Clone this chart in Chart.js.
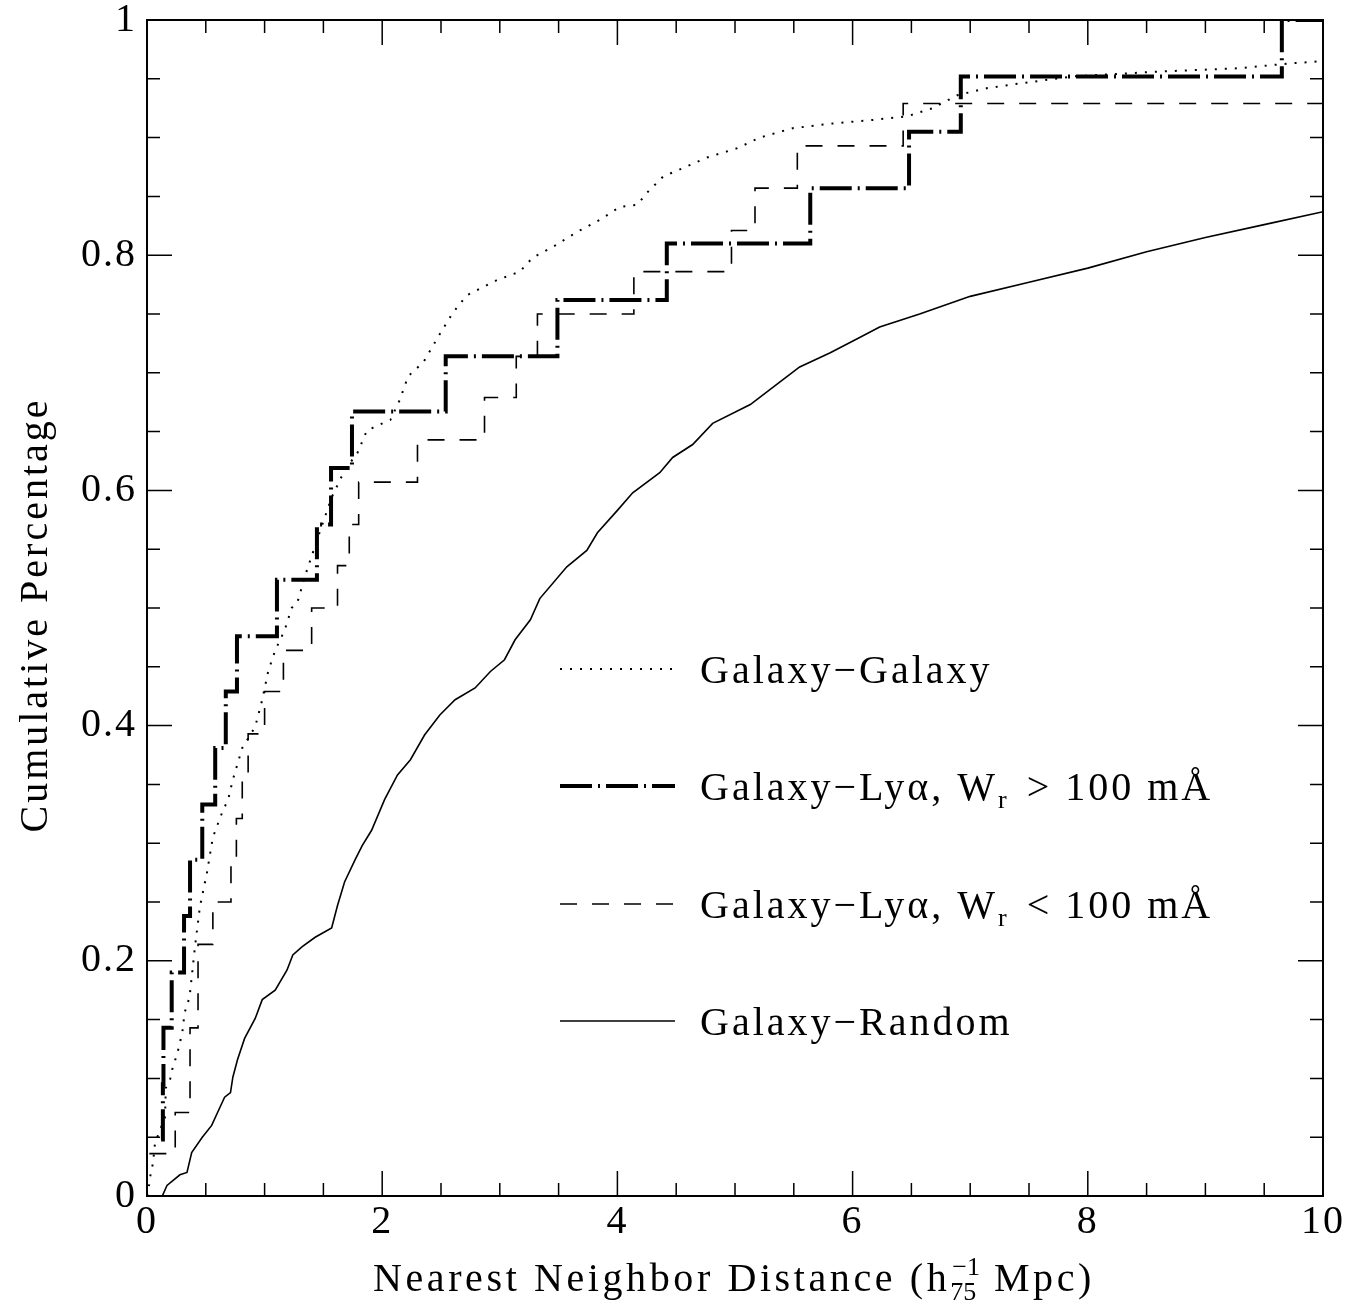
<!DOCTYPE html>
<html><head><meta charset="utf-8">
<script src="https://cdn.jsdelivr.net/npm/chart.js@4/dist/chart.umd.min.js"></script>
<style>html,body{margin:0;padding:0;background:#fff}#wrap{width:1360px;height:1306px;position:relative}</style>
</head><body><div id="wrap"><canvas id="c"></canvas></div>
<script>
// ---- data ----
const xTickLabels = ['0','2','4','6','8','10'];
const yTickLabels = ['0','0.2','0.4','0.6','0.8','1'];

// Galaxy-Galaxy (dotted)
const ggX = [0.0,0.01,0.026,0.051,0.068,0.11,0.153,0.16,0.196,0.22,0.255,0.30,0.32,0.35,0.366,0.408,0.45,0.51,0.56,0.646,0.69,0.73,0.81,0.92,0.98,1.03,1.09,1.17,1.23,1.28,1.34,1.47,1.57,1.68,1.79,1.87,2.07,2.15,2.22,2.35,2.49,2.60,2.72,2.98,3.17,3.28,3.45,3.66,3.85,4.02,4.17,4.25,4.39,4.51,4.76,5.02,5.21,5.49,5.83,6.17,6.46,6.68,6.89,7.14,7.42,7.87,8.58,9.29,9.71,10.0];
const ggY = [0.0,0.003,0.016,0.028,0.045,0.056,0.067,0.092,0.099,0.11,0.12,0.139,0.156,0.165,0.173,0.212,0.246,0.275,0.305,0.328,0.337,0.354,0.381,0.399,0.422,0.446,0.464,0.481,0.5,0.505,0.526,0.565,0.594,0.617,0.632,0.651,0.66,0.677,0.697,0.709,0.733,0.751,0.766,0.779,0.786,0.798,0.807,0.82,0.83,0.841,0.843,0.853,0.867,0.872,0.883,0.891,0.9,0.908,0.912,0.915,0.918,0.925,0.936,0.942,0.946,0.952,0.956,0.959,0.963,0.965];

// Galaxy-Lya, Wr > 100 mA (thick dash-dot, steps)
const strongX = [0.12,0.135,0.14,0.21,0.315,0.366,0.47,0.58,0.67,0.765,1.105,1.445,1.565,1.743,2.54,3.49,4.42,5.64,6.48,6.92,9.65,10.0];
const strongY = [0.048,0.095,0.143,0.190,0.238,0.286,0.333,0.381,0.429,0.476,0.524,0.571,0.619,0.667,0.714,0.762,0.810,0.857,0.905,0.952,1.0,1.0];

// Galaxy-Lya, Wr < 100 mA (dashed, steps)
const weakX = [0.02,0.24,0.366,0.366,0.434,0.434,0.56,0.714,0.76,0.81,0.86,1.00,1.16,1.40,1.62,1.72,1.80,2.30,2.87,3.14,3.32,4.14,4.97,5.17,5.53,6.43,10.0];
const weakY = [0.036,0.071,0.107,0.143,0.179,0.214,0.25,0.286,0.321,0.357,0.393,0.429,0.464,0.5,0.536,0.571,0.607,0.643,0.679,0.714,0.75,0.786,0.821,0.857,0.893,0.929,0.929];

// Galaxy-Random (solid)
const randX = [0.13,0.17,0.28,0.34,0.38,0.47,0.55,0.60,0.66,0.71,0.73,0.77,0.83,0.92,0.98,1.09,1.19,1.24,1.32,1.43,1.57,1.62,1.68,1.77,1.83,1.91,2.02,2.13,2.24,2.36,2.49,2.62,2.79,2.92,3.04,3.13,3.26,3.34,3.57,3.74,3.83,4.0,4.13,4.36,4.47,4.64,4.81,5.13,5.38,5.55,5.81,6.06,6.23,6.57,7.0,7.5,8.0,8.5,9.0,9.5,10.0];
const randY = [0.0,0.009,0.018,0.02,0.037,0.05,0.06,0.071,0.084,0.088,0.101,0.116,0.134,0.151,0.167,0.175,0.192,0.205,0.212,0.22,0.228,0.247,0.267,0.286,0.298,0.311,0.337,0.358,0.371,0.392,0.409,0.422,0.432,0.446,0.456,0.473,0.49,0.508,0.535,0.549,0.564,0.583,0.598,0.615,0.628,0.639,0.657,0.673,0.692,0.705,0.717,0.73,0.739,0.75,0.765,0.777,0.789,0.803,0.815,0.826,0.837];

const seriesLabels = ['Galaxy\u2212Galaxy','Galaxy\u2212Ly\u03b1, Wr > 100 m\u00c5','Galaxy\u2212Ly\u03b1, Wr < 100 m\u00c5','Galaxy\u2212Random'];

const pts = (xs, ys) => xs.map((v, i) => ({x: v, y: ys[i]}));
const FONT = '"Liberation Serif", "Times New Roman", serif';

const styles = [
  {borderDash:[2,8], borderWidth:2, stepped:false},
  {borderDash:[32,6,2,6], borderWidth:4, stepped:'before'},
  {borderDash:[17,15], borderWidth:1.6, stepped:'before'},
  {borderDash:[], borderWidth:1.6, stepped:false}
];

const pgplot = {
  id: 'pgplot',
  beforeDraw(chart) {
    const ctx = chart.ctx;
    ctx.save(); ctx.fillStyle = '#fff'; ctx.fillRect(0, 0, chart.width, chart.height); ctx.restore();
    ctx.letterSpacing = '2px';
  },
  afterDraw(chart) {
    const ctx = chart.ctx, a = chart.chartArea, xs = chart.scales.x, ys = chart.scales.y;
    ctx.save();
    ctx.strokeStyle = '#000'; ctx.fillStyle = '#000';
    ctx.lineWidth = 2; ctx.setLineDash([]);
    ctx.strokeRect(a.left, a.top, a.right - a.left, a.bottom - a.top);
    ctx.lineWidth = 1.5;
    ctx.beginPath();
    for (let i = 0; i <= 20; i++) {
      const px = xs.getPixelForValue(i * 0.5);
      const len = (i % 4 === 0) ? 25 : 13;
      ctx.moveTo(px, a.bottom); ctx.lineTo(px, a.bottom - len);
      ctx.moveTo(px, a.top); ctx.lineTo(px, a.top + len);
    }
    for (let i = 0; i <= 20; i++) {
      const py = ys.getPixelForValue(i * 0.05);
      const len = (i % 4 === 0) ? 25 : 13;
      ctx.moveTo(a.left, py); ctx.lineTo(a.left + len, py);
      ctx.moveTo(a.right, py); ctx.lineTo(a.right - len, py);
    }
    ctx.stroke();

    // legend
    const rows = [669, 786, 904, 1021];
    const big = '40px ' + FONT, small = '26px ' + FONT;
    ctx.textBaseline = 'alphabetic'; ctx.textAlign = 'left';
    rows.forEach((ry, i) => {
      const st = styles[i];
      ctx.save();
      ctx.lineWidth = st.borderWidth; ctx.setLineDash(st.borderDash);
      ctx.beginPath(); ctx.moveTo(560, ry); ctx.lineTo(675, ry); ctx.stroke();
      ctx.restore();
      const base = ry + 14;
      ctx.letterSpacing = '3px';
      ctx.font = big;
      if (i === 1 || i === 2) {
        let x = 700;
        const p1 = 'Galaxy\u2212Ly\u03b1, W';
        ctx.fillText(p1, x, base); x += ctx.measureText(p1).width;
        ctx.font = small; ctx.fillText('r', x, base + 8); x += ctx.measureText('r').width + 4;
        ctx.font = big;
        ctx.fillText(i === 1 ? ' > 100 m\u00c5' : ' < 100 m\u00c5', x, base);
      } else {
        ctx.fillText(seriesLabels[i], 700, base);
      }
    });

    // x axis title
    ctx.font = big; ctx.letterSpacing = '3.6px';
    let x = 373; const by = 1291;
    const t1 = 'Nearest Neighbor Distance (h';
    ctx.fillText(t1, x, by); x += ctx.measureText(t1).width;
    ctx.font = small; ctx.letterSpacing = '0px';
    ctx.fillText('\u22121', x + 2, by - 16);
    ctx.fillText('75', x, by + 9);
    x += ctx.measureText('75').width + 4;
    ctx.font = big; ctx.letterSpacing = '3.6px';
    ctx.fillText(' Mpc)', x, by);

    // y axis title
    ctx.save();
    ctx.translate(47, 615); ctx.rotate(-Math.PI / 2);
    ctx.textAlign = 'center'; ctx.letterSpacing = '3px';
    ctx.fillText('Cumulative Percentage', 0, 0);
    ctx.restore();
    ctx.restore();
  }
};

new Chart(document.getElementById('c'), {
  type: 'scatter',
  data: {
    datasets: [
      {label: seriesLabels[0], data: pts(ggX, ggY)},
      {label: seriesLabels[2], data: pts(weakX, weakY)},
      {label: seriesLabels[1], data: pts(strongX, strongY)},
      {label: seriesLabels[3], data: pts(randX, randY)}
    ].map((d, k) => {
      const st = styles[[0, 2, 1, 3][k]];
      return Object.assign(d, {showLine: true, pointRadius: 0, borderColor: '#000', backgroundColor: '#000',
        fill: false, tension: 0, borderCapStyle: 'butt', borderJoinStyle: 'miter',
        borderWidth: st.borderWidth, borderDash: st.borderDash, stepped: st.stepped});
    })
  },
  options: {
    responsive: true, maintainAspectRatio: false, animation: false, devicePixelRatio: 1,
    layout: {padding: {top: 20, right: 37, left: 0, bottom: 0}},
    plugins: {legend: {display: false}, tooltip: {enabled: false}},
    scales: {
      x: {type: 'linear', min: 0, max: 10,
        grid: {display: false, drawTicks: false}, border: {display: false},
        ticks: {stepSize: 2, color: '#000', padding: 6, maxRotation: 0,
          font: {family: FONT, size: 40, lineHeight: 1},
          callback: (v) => { const i = Math.round(v / 2); return xTickLabels[i]; }},
        afterFit: (s) => { s.height = 110; }
      },
      y: {type: 'linear', min: 0, max: 1,
        grid: {display: false, drawTicks: false}, border: {display: false},
        ticks: {stepSize: 0.2, color: '#000', padding: 10,
          font: {family: FONT, size: 40, lineHeight: 0.4},
          callback: (v) => { const i = Math.round(v / 0.2); return yTickLabels[i]; }},
        afterFit: (s) => { s.width = 147; }
      }
    }
  },
  plugins: [pgplot]
});
</script></body></html>
